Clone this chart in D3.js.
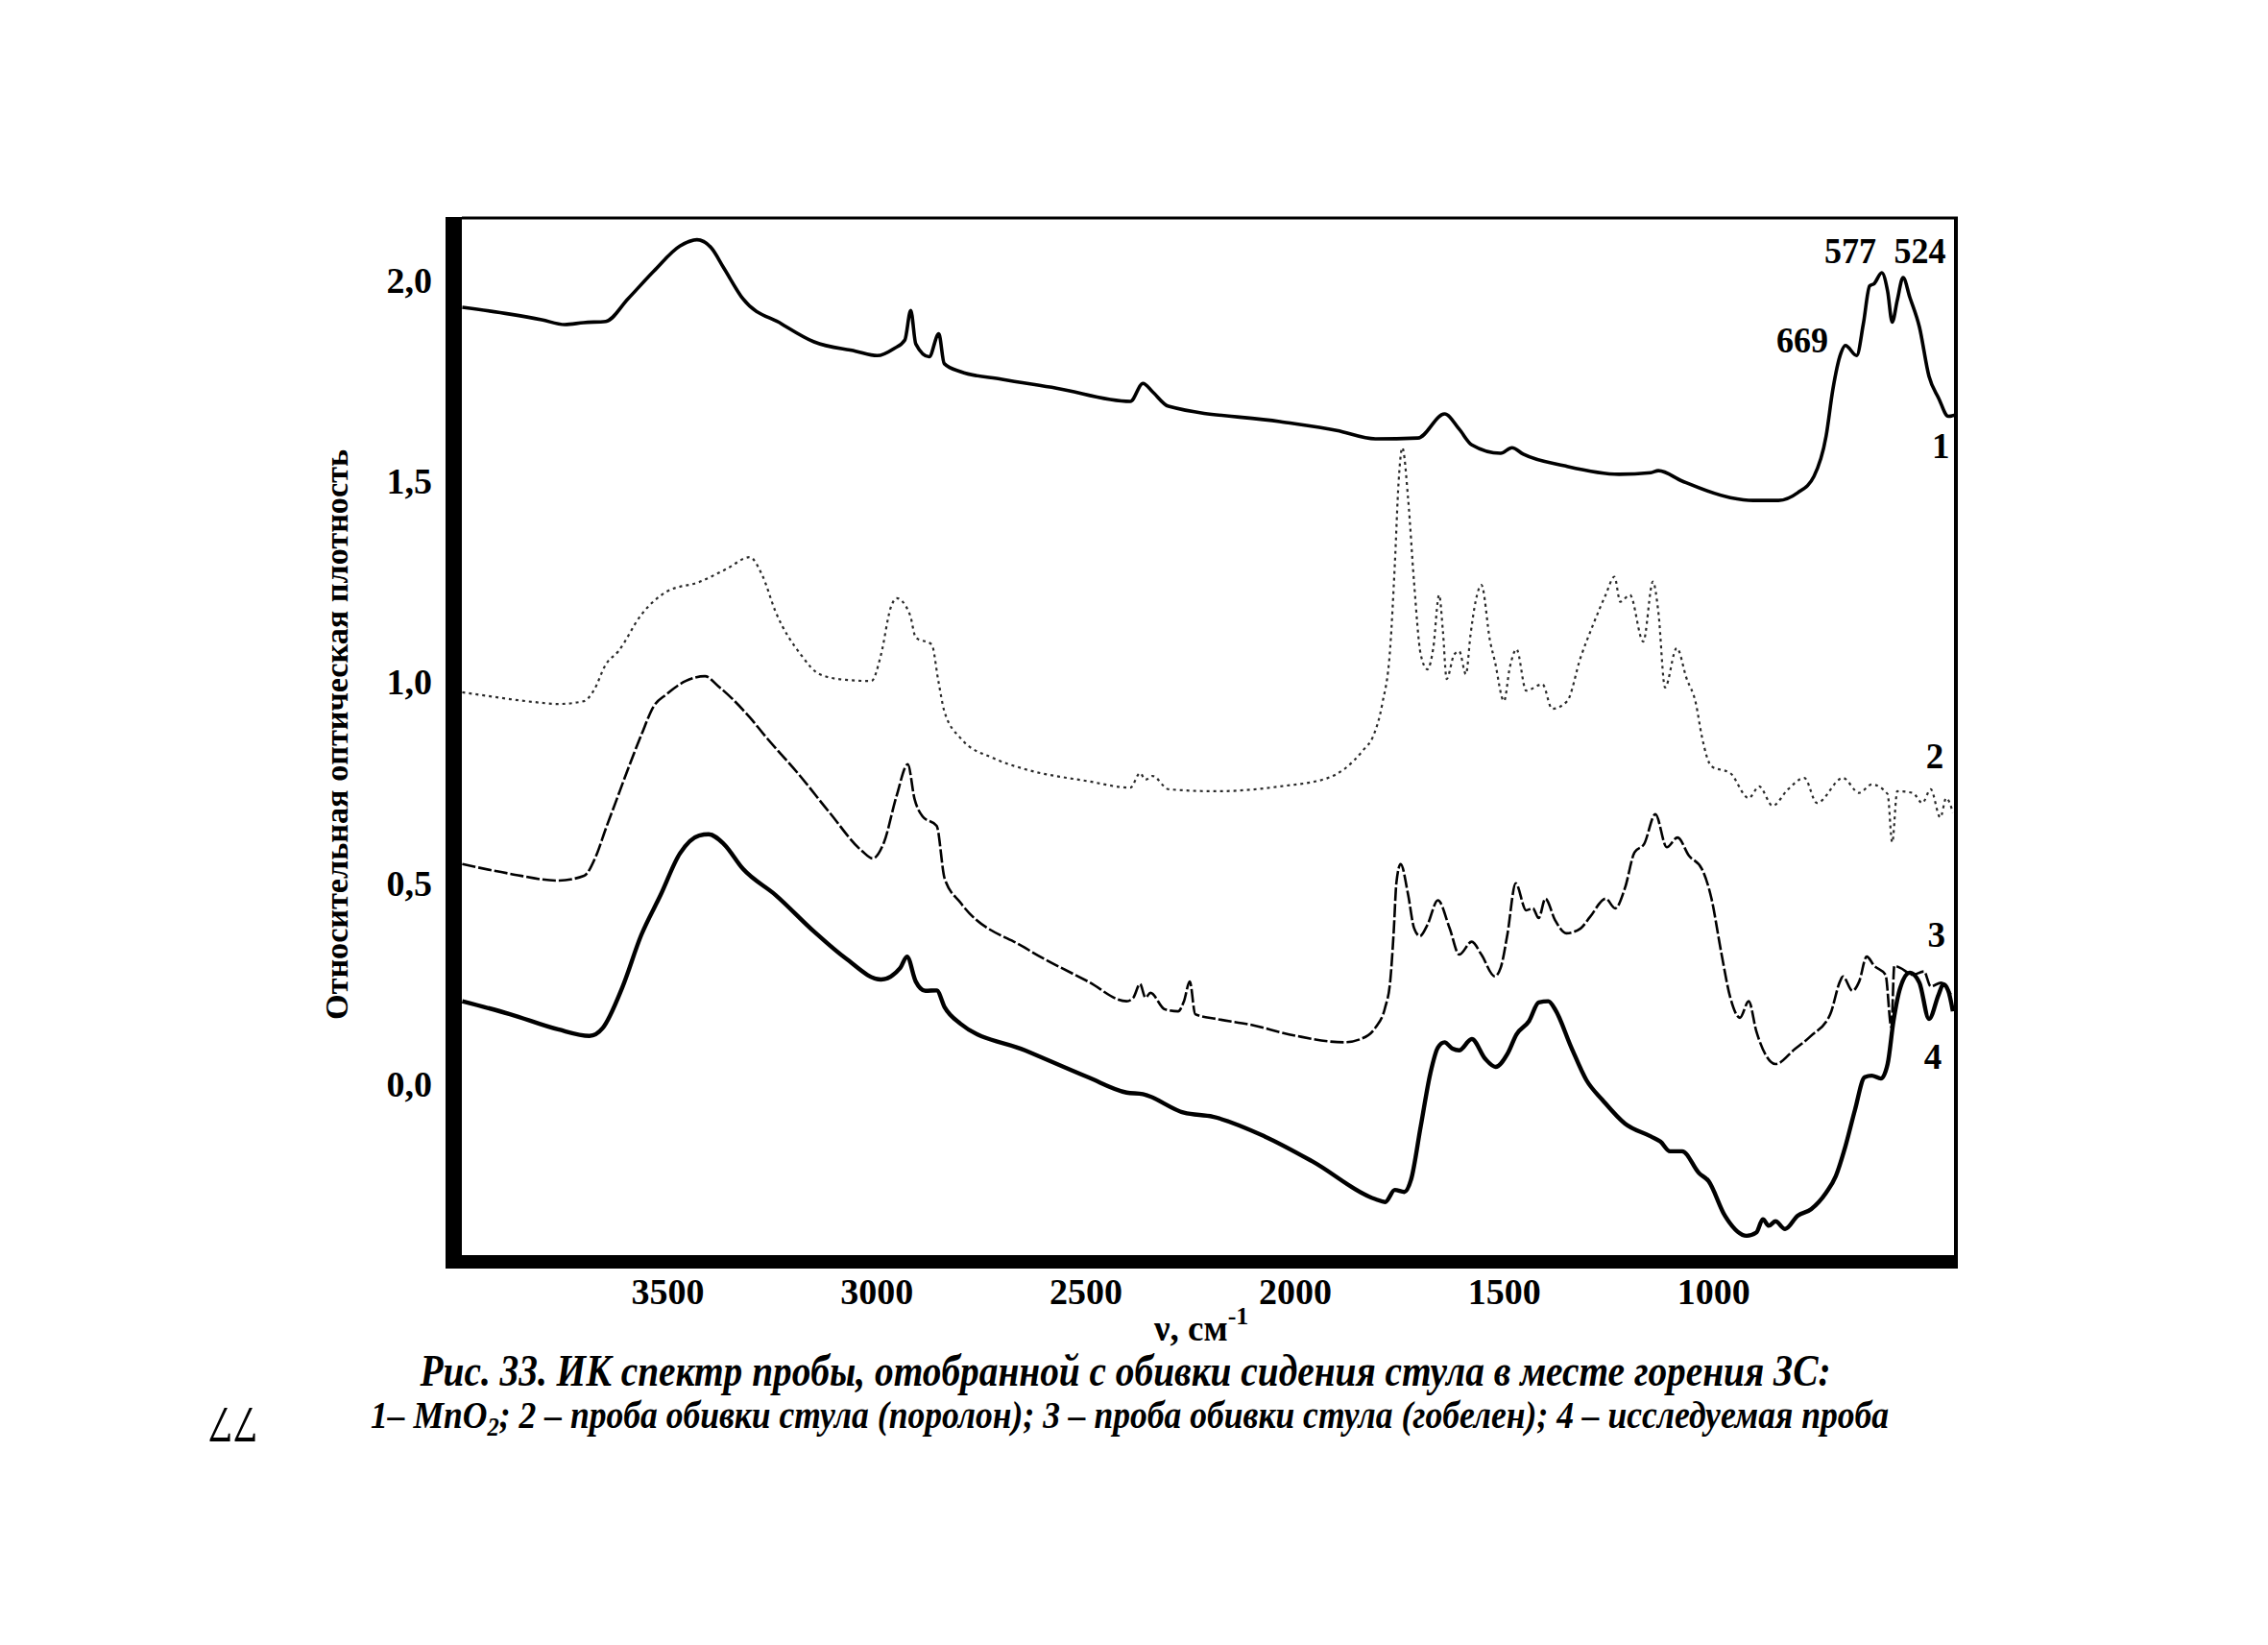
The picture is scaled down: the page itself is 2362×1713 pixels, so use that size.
<!DOCTYPE html>
<html>
<head>
<meta charset="utf-8">
<script src="https://cdn.jsdelivr.net/npm/d3@7/dist/d3.min.js"></script>
<style>
  html, body { margin: 0; padding: 0; background: #fff; }
  svg { display: block; }
  text { font-family: "Liberation Serif", "Times New Roman", serif; fill: #000; }
</style>
</head>
<body>
<svg id="chart" width="2362" height="1713"></svg>
<script>
// ---- data (wavenumber cm^-1, relative optical density) ----
const series1 = [[3990,1.931],[3876,1.914],[3800,1.900],[3745,1.888],[3700,1.893],[3647,1.896],[3594,1.952],[3532,2.021],[3470,2.083],[3429,2.099],[3395,2.079],[3365,2.029],[3319,1.952],[3227,1.890],[3149,1.845],[3050,1.822],[2998,1.811],[2959,1.828],[2932,1.850],[2918,1.923],[2906,1.840],[2874,1.808],[2851,1.865],[2838,1.791],[2799,1.771],[2700,1.752],[2570,1.730],[2393,1.697],[2363,1.742],[2340,1.721],[2302,1.685],[2036,1.647],[1900,1.625],[1807,1.604],[1706,1.606],[1642,1.666],[1607,1.628],[1577,1.589],[1508,1.568],[1481,1.582],[1454,1.566],[1355,1.537],[1225,1.516],[1149,1.520],[1131,1.525],[1074,1.499],[959,1.458],[904,1.451],[844,1.451],[798,1.470],[759,1.511],[730,1.611],[714,1.726],[695,1.816],[684,1.836],[657,1.811],[641,1.890],[626,1.984],[615,1.990],[597,2.017],[583,1.971],[572,1.894],[560,1.948],[546,2.005],[530,1.956],[507,1.882],[484,1.759],[461,1.705],[438,1.660],[422,1.663]];

const series2 = [[3990,0.974],[3930,0.965],[3876,0.957],[3820,0.950],[3761,0.945],[3699,0.952],[3676,0.978],[3647,1.043],[3617,1.076],[3562,1.167],[3502,1.224],[3424,1.248],[3356,1.282],[3303,1.310],[3273,1.265],[3241,1.174],[3181,1.068],[3136,1.019],[3074,1.005],[3012,1.002],[2989,1.068],[2966,1.184],[2952,1.208],[2920,1.167],[2906,1.110],[2868,1.093],[2852,1.002],[2838,0.928],[2799,0.860],[2720,0.810],[2645,0.783],[2494,0.753],[2393,0.737],[2370,0.773],[2357,0.757],[2340,0.766],[2302,0.733],[2187,0.728],[2036,0.740],[1921,0.761],[1882,0.783],[1836,0.831],[1813,0.864],[1791,0.945],[1772,1.084],[1761,1.290],[1752,1.495],[1743,1.582],[1729,1.453],[1715,1.248],[1699,1.068],[1683,1.031],[1669,1.084],[1655,1.216],[1646,1.126],[1637,1.007],[1619,1.068],[1607,1.076],[1591,1.019],[1580,1.117],[1568,1.199],[1554,1.241],[1533,1.100],[1522,1.052],[1500,0.952],[1486,1.036],[1470,1.081],[1447,0.978],[1408,0.994],[1385,0.933],[1349,0.952],[1317,1.060],[1287,1.142],[1257,1.216],[1236,1.261],[1222,1.199],[1199,1.216],[1167,1.100],[1144,1.249],[1131,1.174],[1115,0.986],[1087,1.084],[1064,1.010],[1041,0.945],[1027,0.864],[1004,0.790],[959,0.773],[915,0.711],[890,0.740],[858,0.692],[821,0.733],[782,0.761],[752,0.699],[690,0.761],[651,0.724],[621,0.745],[583,0.721],[572,0.601],[560,0.728],[523,0.724],[500,0.699],[480,0.733],[457,0.663],[443,0.711],[427,0.675]];

const series3 = [[3990,0.547],[3876,0.523],[3761,0.506],[3699,0.518],[3670,0.568],[3647,0.635],[3624,0.699],[3594,0.783],[3562,0.868],[3532,0.940],[3502,0.969],[3456,1.002],[3410,1.014],[3379,0.990],[3303,0.912],[3265,0.864],[3188,0.773],[3112,0.675],[3035,0.580],[3009,0.561],[2982,0.601],[2952,0.716],[2925,0.795],[2909,0.709],[2890,0.666],[2856,0.642],[2837,0.511],[2799,0.451],[2645,0.339],[2494,0.255],[2402,0.206],[2386,0.215],[2370,0.249],[2357,0.215],[2345,0.227],[2311,0.186],[2279,0.181],[2265,0.206],[2251,0.255],[2238,0.174],[2187,0.162],[2112,0.149],[1997,0.120],[1882,0.104],[1843,0.112],[1807,0.141],[1784,0.191],[1772,0.255],[1764,0.371],[1757,0.502],[1747,0.547],[1729,0.470],[1715,0.388],[1701,0.368],[1683,0.396],[1658,0.457],[1630,0.388],[1607,0.322],[1577,0.354],[1554,0.322],[1522,0.268],[1508,0.289],[1492,0.371],[1472,0.499],[1447,0.432],[1431,0.437],[1417,0.413],[1401,0.461],[1378,0.408],[1351,0.375],[1317,0.387],[1294,0.416],[1257,0.461],[1234,0.437],[1211,0.487],[1188,0.576],[1165,0.597],[1138,0.671],[1111,0.589],[1085,0.613],[1058,0.568],[1027,0.535],[1004,0.461],[981,0.329],[959,0.215],[936,0.165],[915,0.206],[897,0.132],[874,0.072],[851,0.050],[805,0.087],[766,0.120],[720,0.174],[697,0.255],[690,0.268],[667,0.232],[651,0.255],[633,0.317],[615,0.294],[588,0.272],[574,0.141],[567,0.294],[553,0.289],[523,0.272],[496,0.280],[480,0.243],[455,0.252],[432,0.223]];

const series4 = [[3990,0.206],[3876,0.174],[3761,0.136],[3686,0.120],[3654,0.140],[3608,0.239],[3562,0.371],[3516,0.470],[3470,0.573],[3424,0.618],[3401,0.621],[3365,0.597],[3319,0.535],[3241,0.470],[3149,0.379],[3074,0.313],[2989,0.260],[2943,0.289],[2927,0.317],[2906,0.255],[2883,0.232],[2856,0.233],[2837,0.191],[2799,0.150],[2645,0.084],[2494,0.017],[2402,-0.021],[2363,-0.025],[2265,-0.071],[2196,-0.081],[2072,-0.130],[1958,-0.192],[1807,-0.286],[1784,-0.293],[1761,-0.263],[1738,-0.268],[1722,-0.237],[1699,-0.105],[1676,0.027],[1658,0.091],[1642,0.104],[1623,0.088],[1607,0.084],[1577,0.112],[1545,0.063],[1520,0.043],[1492,0.075],[1470,0.124],[1440,0.157],[1417,0.203],[1394,0.206],[1378,0.186],[1339,0.091],[1303,0.010],[1264,-0.040],[1211,-0.098],[1149,-0.130],[1126,-0.143],[1103,-0.167],[1074,-0.167],[1034,-0.221],[1011,-0.241],[972,-0.327],[920,-0.377],[897,-0.369],[881,-0.336],[867,-0.352],[851,-0.341],[828,-0.360],[798,-0.327],[766,-0.311],[730,-0.270],[707,-0.229],[684,-0.155],[661,-0.064],[638,0.017],[621,0.021],[599,0.014],[583,0.050],[569,0.157],[553,0.239],[530,0.277],[507,0.252],[484,0.162],[461,0.223],[450,0.248],[438,0.232],[427,0.181]];

const xTicks = [3500, 3000, 2500, 2000, 1500, 1000];
const yTicks = [0.0, 0.5, 1.0, 1.5, 2.0];
const curveLabels = [
  {name: "1", wn: 456, v: 1.556},
  {name: "2", wn: 470, v: 0.785},
  {name: "3", wn: 466, v: 0.341},
  {name: "4", wn: 475, v: 0.038}
];
const peakLabels = [
  {name: "577", wn: 672, v: 2.042},
  {name: "524", wn: 506, v: 2.042},
  {name: "669", wn: 787, v: 1.819}
];
const yTitle = "Относительная оптическая плотность";
const caption1 = "Рис. 33. ИК спектр пробы, отобранной с обивки сидения стула в месте горения ЗС:";
const pageNumber = "77";

// ---- layout ----
const svg = d3.select("#chart");
const L = 481, R = 2036, T = 227, B = 1307;
const x = d3.scaleLinear().domain([3991, 422]).range([L, R]);
const y = d3.scaleLinear().domain([-0.425, 2.153]).range([B, T]);

const line = d3.line().x(d => x(d[0])).y(d => y(d[1])).curve(d3.curveMonotoneX);

const styles = [
  {data: series1, w: 3.6, dash: null, color: "#000"},
  {data: series2, w: 2.2, dash: "3 4", color: "#2a2a2a"},
  {data: series3, w: 2.6, dash: "14 3", color: "#000"},
  {data: series4, w: 4.4, dash: null, color: "#000"}
];
styles.forEach(s => {
  svg.append("path")
    .attr("d", line(s.data))
    .attr("fill", "none")
    .attr("stroke", s.color)
    .attr("stroke-width", s.w)
    .attr("stroke-linejoin", "round")
    .attr("stroke-dasharray", s.dash);
});

// frame
svg.append("line").attr("x1", L).attr("x2", R + 3).attr("y1", T).attr("y2", T)
  .attr("stroke", "#000").attr("stroke-width", 3);
svg.append("line").attr("x1", R + 1).attr("x2", R + 1).attr("y1", T - 1).attr("y2", B + 14)
  .attr("stroke", "#000").attr("stroke-width", 4);
svg.append("rect").attr("x", L - 17).attr("y", T - 1).attr("width", 17).attr("height", B - T + 15).attr("fill", "#000");
svg.append("rect").attr("x", L - 17).attr("y", B).attr("width", R - L + 20).attr("height", 14).attr("fill", "#000");

// axes
const fmt = d => d3.format(".1f")(d).replace(".", ",");
const gy = svg.append("g").attr("transform", `translate(${L},0)`)
  .call(d3.axisLeft(y).tickValues(yTicks).tickFormat(fmt).tickSize(0).tickPadding(31));
gy.select(".domain").remove();
gy.selectAll("text").attr("font-family", "Liberation Serif").attr("font-weight", "bold")
  .attr("font-size", 38).attr("dy", "0.34em");

const gx = svg.append("g").attr("transform", `translate(0,${B})`)
  .call(d3.axisBottom(x).tickValues(xTicks).tickFormat(d3.format("d")).tickSize(0));
gx.select(".domain").remove();
gx.selectAll("text").attr("font-family", "Liberation Serif").attr("font-weight", "bold")
  .attr("font-size", 38).attr("y", 51).attr("dy", 0);

// axis titles
svg.append("text")
  .attr("transform", "translate(362,765) rotate(-90)")
  .attr("text-anchor", "middle")
  .attr("font-weight", "bold").attr("font-size", 34)
  .attr("textLength", 594).attr("lengthAdjust", "spacingAndGlyphs")
  .text(yTitle);

const xt = svg.append("text").attr("x", 1202).attr("y", 1396)
  .attr("font-weight", "bold").attr("font-size", 37);
xt.append("tspan").text("ν, см");
xt.append("tspan").attr("dy", -17).attr("font-size", 26).text("-1");

// curve & peak labels
svg.selectAll("text.cl").data(curveLabels).join("text")
  .attr("class", "cl")
  .attr("x", d => x(d.wn)).attr("y", d => y(d.v))
  .attr("text-anchor", "middle").attr("font-weight", "bold").attr("font-size", 37)
  .text(d => d.name);
svg.selectAll("text.pl").data(peakLabels).join("text")
  .attr("class", "pl")
  .attr("x", d => x(d.wn)).attr("y", d => y(d.v))
  .attr("text-anchor", "middle").attr("font-weight", "bold").attr("font-size", 38)
  .attr("textLength", 54).attr("lengthAdjust", "spacingAndGlyphs")
  .text(d => d.name);

// caption
svg.append("text").attr("x", 1172).attr("y", 1443)
  .attr("text-anchor", "middle").attr("font-weight", "bold").attr("font-style", "italic")
  .attr("font-size", 46).attr("textLength", 1469).attr("lengthAdjust", "spacingAndGlyphs")
  .text(caption1);

const c2 = svg.append("text").attr("x", 386).attr("y", 1487)
  .attr("font-weight", "bold").attr("font-style", "italic")
  .attr("font-size", 39).attr("textLength", 1581).attr("lengthAdjust", "spacingAndGlyphs");
c2.append("tspan").text("1– MnO");
c2.append("tspan").attr("dy", 8).attr("font-size", 27).text("2");
c2.append("tspan").attr("dy", -8).text("; 2 – проба обивки стула (поролон); 3 – проба обивки стула (гобелен); 4 – исследуемая проба");

// page number (upside down, as on the scanned page)
svg.append("text")
  .attr("transform", "translate(243,1484) rotate(180)")
  .attr("text-anchor", "middle").attr("dy", "0.35em")
  .attr("font-size", 52)
  .text(pageNumber);
</script>
</body>
</html>
